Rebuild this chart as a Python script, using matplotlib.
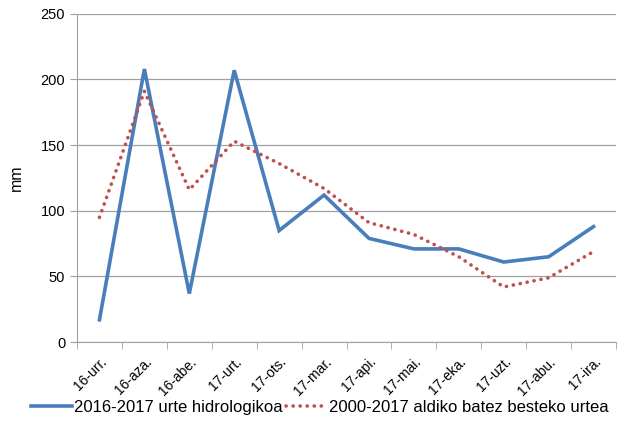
import matplotlib
matplotlib.use("Agg")
import matplotlib.pyplot as plt
import numpy as np

plt.rcParams['font.family'] = ['Liberation Sans', 'DejaVu Sans']

# datuak
months = ["16-urr.", "16-aza.", "16-abe.", "17-urt.", "17-ots.", "17-mar.",
          "17-api.", "17-mai.", "17-eka.", "17-uzt.", "17-abu.", "17-ira."]
hydro_2016_2017 = [17, 208, 37, 207, 85, 112, 79, 71, 71, 61, 65, 88]
mean_2000_2017 = [95, 191, 116, 153, 136, 117, 91, 82, 65, 42, 49, 69]

fig = plt.figure(figsize=(6.21, 4.32), dpi=100)
ax = fig.add_axes([0.124, 0.208, 0.868, 0.760])

x = np.arange(len(months))
ax.plot(x, hydro_2016_2017, color="#4A7EBB", lw=2.6, solid_joinstyle="miter",
        label="2016-2017 urte hidrologikoa")
ax.plot(x, mean_2000_2017, color="#C0504D", lw=2.6, linestyle=(0, (0.05, 1.9)),
        dash_capstyle="round", label="2000-2017 aldiko batez besteko urtea")

ax.set_xlim(-0.5, len(months) - 0.5)
ax.set_ylim(0, 250)
ax.set_yticks(range(0, 251, 50))
ax.yaxis.grid(True, color="#A0A0A0", lw=0.9)
ax.set_axisbelow(True)

ax.set_xticks(x)
ax.set_xticklabels(months, rotation=45, ha="right", rotation_mode="anchor", fontsize=10)
ax.set_xticks(np.arange(-0.5, len(months)), minor=True)
ax.tick_params(axis="x", which="major", length=0, pad=9)
ax.tick_params(axis="x", which="minor", length=5, color="#A0A0A0")
ax.tick_params(axis="y", length=5, color="#A0A0A0", labelsize=10.5)

for s in ["top", "right"]:
    ax.spines[s].set_visible(False)
ax.spines["left"].set_color("#A0A0A0")
ax.spines["bottom"].set_color("#A0A0A0")

ax.set_ylabel("mm", fontsize=11.5, labelpad=12)

fig.legend(loc="lower center", ncol=2, frameon=False, fontsize=12,
           bbox_to_anchor=(0.515, 0.005), handlelength=2.5, columnspacing=0.2,
           handletextpad=0.1)

fig.savefig("out.png", dpi=100)
